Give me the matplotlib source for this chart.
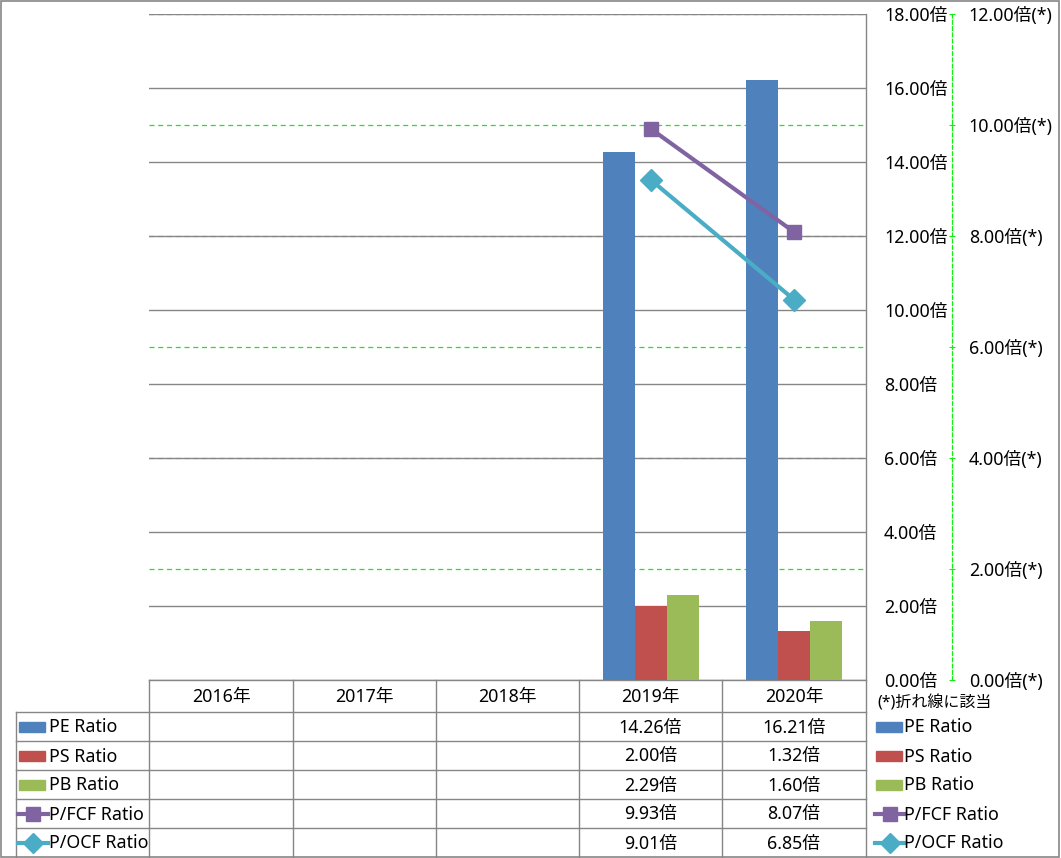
import matplotlib
matplotlib.use("Agg")
import matplotlib.pyplot as plt
import matplotlib.patches as mpatches
from matplotlib.lines import Line2D
import numpy as np

plt.rcParams['font.family'] = ['Noto Sans', 'Noto Sans CJK JP', 'DejaVu Sans']

years = ["2016年", "2017年", "2018年", "2019年", "2020年"]
pe_ratio = [np.nan, np.nan, np.nan, 14.26, 16.21]
ps_ratio = [np.nan, np.nan, np.nan, 2.00, 1.32]
pb_ratio = [np.nan, np.nan, np.nan, 2.29, 1.60]
pfcf_ratio = [np.nan, np.nan, np.nan, 9.93, 8.07]
pocf_ratio = [np.nan, np.nan, np.nan, 9.01, 6.85]

bar_names = ["PE Ratio", "PS Ratio", "PB Ratio"]
line_names = ["P/FCF Ratio", "P/OCF Ratio"]
bar_colors = ["#4F81BD", "#C0504D", "#9BBB59"]
line_colors = ["#8064A2", "#4BACC6"]
line_markers = ["s", "D"]

W, H = 1061, 858
grid_gray = "#868686"
green = "#11EE11"
fs = 12.8

fig = plt.figure(figsize=(W / 100, H / 100), dpi=100)

# main plot area (pixels: x 149..866, y 14..680)
ax = fig.add_axes([149 / W, 1 - 680 / H, (866 - 149) / W, (680 - 14) / H])
ax2 = ax.twinx()

x = np.arange(len(years))
bw = 0.223
bars = [pe_ratio, ps_ratio, pb_ratio]
for i, (vals, c) in enumerate(zip(bars, bar_colors)):
    ax.bar(x + (i - 1) * bw, vals, bw, color=c, zorder=3)

ymax1, ymax2 = 18, 12
ax.set_xlim(-0.5, len(years) - 0.5)
ax.set_ylim(0, ymax1)
ax2.set_ylim(0, ymax2)

# secondary grid (green dashed) under the bars
for v in np.arange(2, ymax2 + 1, 2):
    ax.axhline(v * ymax1 / ymax2, color=green, lw=0.9, ls=(0, (4, 3)), zorder=1)
for v in np.arange(0, ymax1 + 1, 2):
    ax.axhline(v, color=grid_gray, lw=1.0, zorder=2)

for vals, c, m in zip([pfcf_ratio, pocf_ratio], line_colors, line_markers):
    ax2.plot(x, vals, color=c, lw=3, marker=m, ms=10 if m == "s" else 11,
             markeredgecolor=c, zorder=4)

ax.set_xticks([])
ax.yaxis.tick_right()
ax.set_yticks(np.arange(0, ymax1 + 1, 2))
ax.set_yticklabels([f"{v:.2f}倍" for v in np.arange(0, ymax1 + 1, 2)])
ax.tick_params(axis="y", length=0, pad=13, labelsize=fs)
for s in ax.spines.values():
    s.set_visible(False)

ax2.set_yticks(np.arange(0, ymax2 + 1, 2))
ax2.set_yticklabels([f"{v:.2f}倍(*)" for v in np.arange(0, ymax2 + 1, 2)])
for s in ["top", "left", "bottom"]:
    ax2.spines[s].set_visible(False)
ax2.spines["right"].set_position(("axes", (952 - 149) / (866 - 149)))
ax2.spines["right"].set_color(green)
ax2.spines["right"].set_linestyle((0, (3, 2)))
ax2.spines["right"].set_linewidth(0.9)
ax2.tick_params(axis="y", length=4, direction="inout", color=green, pad=10,
                labelsize=fs)
ax.patch.set_visible(False)
ax2.patch.set_visible(False)

# overlay in pixel coordinates for table, legend and border
ov = fig.add_axes([0, 0, 1, 1], zorder=-1)
ov.set_xlim(0, W)
ov.set_ylim(H, 0)
ov.axis("off")

col_edges = [149, 293, 436, 579, 722, 866]
row_edges = [680, 712, 741, 770, 799, 828, 857]
lk = dict(color=grid_gray, lw=1.0)
ov.plot([149, 866], [680, 680], **lk)
for r in row_edges[1:-1]:
    ov.plot([16, 866], [r, r], **lk)
for c in col_edges[:-1]:
    ov.plot([c, c], [680, 857], **lk)
ov.plot([16, 16], [712, 857], **lk)
ov.plot([866, 866], [14, 857], **lk)
ov.add_patch(mpatches.Rectangle((1, 1), W - 3, H - 2, fill=False, ec=grid_gray, lw=1.2))

for j, y in enumerate(years):
    cx = (col_edges[j] + col_edges[j + 1]) / 2
    ov.text(cx, (680 + 712) / 2 + 1, y, ha="center", va="center", fontsize=fs)

all_names = bar_names + line_names
all_vals = [pe_ratio, ps_ratio, pb_ratio, pfcf_ratio, pocf_ratio]
for i, (name, vals) in enumerate(zip(all_names, all_vals)):
    cy = (row_edges[i + 1] + row_edges[i + 2]) / 2
    for j, v in enumerate(vals):
        if np.isnan(v):
            continue
        cx = (col_edges[j] + col_edges[j + 1]) / 2
        ov.text(cx, cy + 1, f"{v:.2f}倍", ha="center", va="center", fontsize=fs)
    # legend keys: in table and on the right
    for x0, tx in [(19, 49), (876, 904)]:
        if i < 3:
            ov.add_patch(mpatches.Rectangle((x0, cy - 5), 26, 10, color=bar_colors[i]))
        else:
            k = i - 3
            ov.add_line(Line2D([x0 - 1, x0 + 29], [cy, cy], color=line_colors[k], lw=3))
            ov.add_line(Line2D([x0 + 14], [cy], marker=line_markers[k], ms=10,
                               color=line_colors[k]))
        ov.text(tx, cy + 1, name, ha="left", va="center", fontsize=fs)

ov.text(877, 703, "(*)折れ線に該当", ha="left", va="center", fontsize=11.5)

fig.savefig("out.png", dpi=100)
